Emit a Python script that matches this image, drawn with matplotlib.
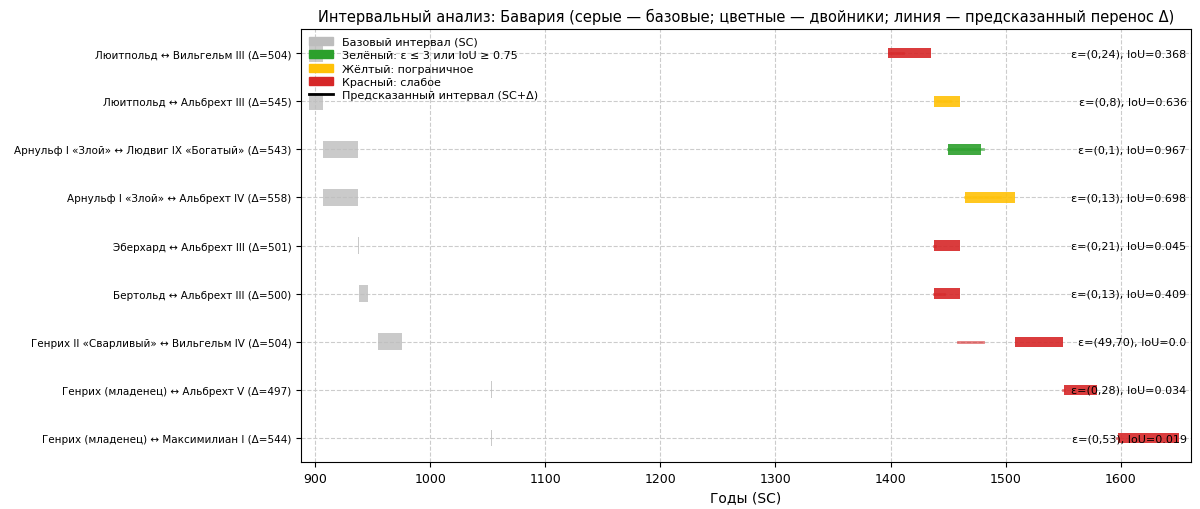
import matplotlib
matplotlib.use("Agg")
import matplotlib.pyplot as plt
from matplotlib.patches import Patch
from matplotlib.lines import Line2D

labels = ["Люитпольд ↔ Вильгельм III (Δ=504)",
          "Люитпольд ↔ Альбрехт III (Δ=545)",
          "Арнульф I «Злой» ↔ Людвиг IX «Богатый» (Δ=543)",
          "Арнульф I «Злой» ↔ Альбрехт IV (Δ=558)",
          "Эберхард ↔ Альбрехт III (Δ=501)",
          "Бертольд ↔ Альбрехт III (Δ=500)",
          "Генрих II «Сварливый» ↔ Вильгельм IV (Δ=504)",
          "Генрих (младенец) ↔ Альбрехт V (Δ=497)",
          "Генрих (младенец) ↔ Максимилиан I (Δ=544)"]
deltas = [504, 545, 543, 558, 501, 500, 504, 497, 544]
base_start = [895, 895, 907, 907, 937, 938, 955, 1053, 1053]
base_end   = [907, 907, 937, 937, 938, 946, 976, 1054, 1054]
twin_start = [1398, 1438, 1450, 1465, 1438, 1438, 1508, 1551, 1598]
twin_end   = [1435, 1460, 1479, 1508, 1460, 1460, 1550, 1579, 1651]
status = ["red", "yellow", "green", "yellow", "red", "red", "red", "red", "red"]
notes = ["ε=(0,24), IoU=0.368", "ε=(0,8), IoU=0.636", "ε=(0,1), IoU=0.967",
         "ε=(0,13), IoU=0.698", "ε=(0,21), IoU=0.045", "ε=(0,13), IoU=0.409",
         "ε=(49,70), IoU=0.0", "ε=(0,28), IoU=0.034", "ε=(0,53), IoU=0.019"]
colors = {"green": "#2ca02c", "yellow": "#ffc107", "red": "#d62728"}

fig = plt.figure(figsize=(12, 5.1), dpi=100)
ax = fig.add_axes([0.251, 0.092, 0.7415, 0.849])
for i in range(len(labels)):
    c = colors[status[i]]
    ax.barh(i, base_end[i] - base_start[i], left=base_start[i], height=0.35,
            color="#bdbdbd", alpha=0.8, zorder=2)
    ax.plot([base_start[i] + deltas[i], base_end[i] + deltas[i]], [i, i],
            color=c, lw=2, alpha=0.6, zorder=3)
    ax.barh(i, twin_end[i] - twin_start[i], left=twin_start[i], height=0.22,
            color=c, alpha=0.9, zorder=4)
    ax.text(0.995, i, notes[i], transform=ax.get_yaxis_transform(),
            ha="right", va="center", fontsize=8, zorder=5)
ax.set_yticks(range(len(labels)))
ax.set_yticklabels(labels, fontsize=7.5)
ax.set_ylim(8.5, -0.5)
ax.set_xlim(888, 1661)
ax.tick_params(axis='x', labelsize=9)
ax.set_xlabel("Годы (SC)", fontsize=10)
ax.set_title("Интервальный анализ: Бавария (серые — базовые; цветные — двойники; линия — предсказанный перенос Δ)", fontsize=10.5)
ax.grid(True, linestyle="--", color="#cccccc", lw=0.8, zorder=0)
ax.set_axisbelow(True)
handles = [Patch(color="#bdbdbd", label="Базовый интервал (SC)"),
           Patch(color=colors["green"], label="Зелёный: ε ≤ 3 или IoU ≥ 0.75"),
           Patch(color=colors["yellow"], label="Жёлтый: пограничное"),
           Patch(color=colors["red"], label="Красный: слабое"),
           Line2D([0], [0], color="black", lw=2, label="Предсказанный интервал (SC+Δ)")]
ax.legend(handles=handles, loc="upper left", fontsize=8, frameon=False,
          handlelength=2.2, labelspacing=0.3, borderaxespad=0.3)
fig.savefig("out.png")
